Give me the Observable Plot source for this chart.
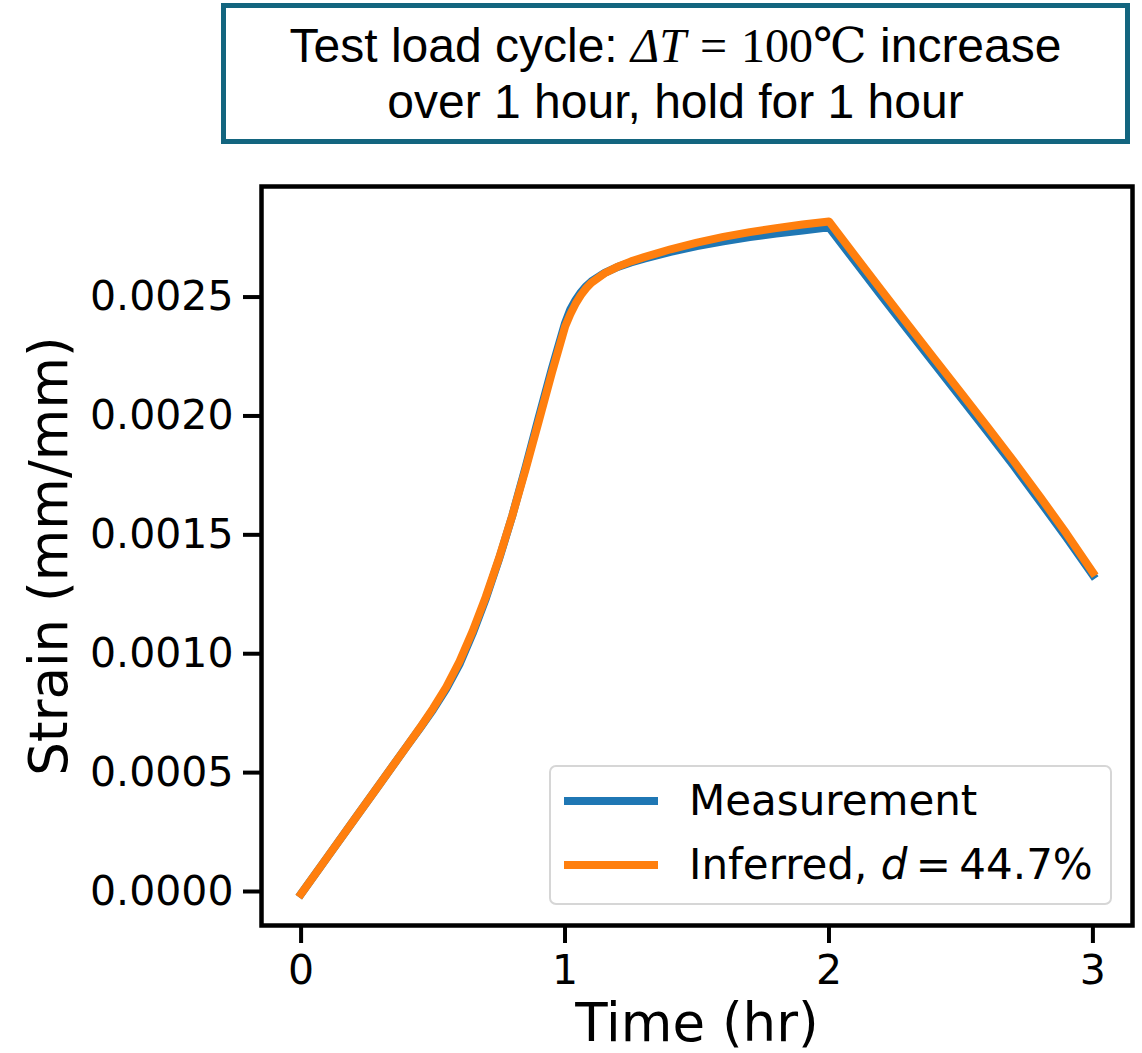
<!DOCTYPE html>
<html>
<head>
<meta charset="utf-8">
<script src="https://cdn.jsdelivr.net/npm/d3@7"></script>
<script src="https://cdn.jsdelivr.net/npm/@observablehq/plot@0.6"></script>
<style>
  html, body { margin: 0; padding: 0; background: #fff; }
  #wrap { position: relative; width: 1142px; height: 1053px; background: #fff; overflow: hidden; }
  #titlebox {
    position: absolute; left: 221px; top: 3px; width: 909px; height: 141px;
    box-sizing: border-box; border: 5px solid #13657f; background: #fff;
    font-family: "Liberation Sans", Arial, sans-serif; font-size: 48px; color: #000;
    text-align: center;
  }
  #titlebox .l1 { position: absolute; left: 0; right: 0; top: 10px; line-height: 56px; white-space: nowrap; }
  #titlebox .l2 { position: absolute; left: 0; right: 0; top: 66px; line-height: 56px; white-space: nowrap; }
  .math { font-family: "Liberation Serif", "DejaVu Serif", serif; font-size: 48px; }
  .mi { font-style: italic; }
  .eq { margin: 0 14px; }
  #chart { position: absolute; left: 0; top: 150px; }
  #legend {
    position: absolute; left: 549px; top: 765px; width: 563px; height: 140px;
    box-sizing: border-box; border: 2px solid #d6d6d6; border-radius: 7px;
    background: rgba(255,255,255,0.8);
    font-family: "DejaVu Sans", sans-serif; font-size: 42px; color: #000;
  }
  #legend .item { position: absolute; left: 0; height: 56px; width: 100%; }
  #legend .swatch { position: absolute; left: 13px; width: 94px; height: 8px; top: 24px; }
  #legend .lab { position: absolute; left: 138px; top: 0; line-height: 56px; white-space: nowrap; }
</style>
</head>
<body>
<div id="wrap">
  <div id="titlebox">
    <div class="l1">Test load cycle: <span class="math"><span class="mi">ΔT</span><span class="eq">=</span>100℃</span> increase</div>
    <div class="l2">over 1 hour, hold for 1 hour</div>
  </div>
  <div id="chart"></div>
  <div id="legend"></div>
</div>
<script>
// ---- data ----
const time = [0, 0.1, 0.2, 0.3, 0.4, 0.45, 0.5, 0.55, 0.6, 0.65, 0.7, 0.75, 0.8, 0.85, 0.9, 0.95, 1.0,
  1.02, 1.04, 1.06, 1.08, 1.1, 1.15, 1.2, 1.25, 1.3, 1.4, 1.5, 1.6, 1.7, 1.8, 1.9, 2.0,
  2.1, 2.2, 2.3, 2.4, 2.5, 2.6, 2.7, 2.8, 2.9, 3.0];
const measurement = [-0.00001, 0.000145, 0.0003, 0.000455, 0.00061, 0.000686, 0.000765, 0.000852, 0.000955, 0.001085, 0.001232, 0.001398, 0.00158, 0.001782, 0.001992, 0.002198, 0.00239,
  0.002448, 0.002488, 0.00252, 0.002546, 0.002566, 0.002602, 0.002627, 0.002646, 0.002662, 0.00269, 0.002714, 0.002734, 0.002752, 0.002767, 0.00278, 0.002793,
  0.002648, 0.002503, 0.00236, 0.002218, 0.002076, 0.001934, 0.00179, 0.00164, 0.001488, 0.00133];
const inferred = [-0.00001, 0.000145, 0.0003, 0.000455, 0.00061, 0.000688, 0.00077, 0.00086, 0.000967, 0.001095, 0.00124, 0.001402, 0.00158, 0.001773, 0.001976, 0.002181, 0.002375,
  0.002428, 0.002472, 0.002508, 0.002537, 0.00256, 0.0026, 0.002628, 0.00265, 0.002668, 0.002701, 0.002729, 0.002753, 0.002773, 0.00279, 0.002805, 0.002818,
  0.002672, 0.002527, 0.002383, 0.00224, 0.002098, 0.001955, 0.00181, 0.00166, 0.001505, 0.001342];
const xTicks = [0, 1, 2, 3];
const yTicks = [0, 0.0005, 0.0010, 0.0015, 0.0020, 0.0025];
const seriesNames = ["Measurement", "Inferred"];
const seriesColors = ["#1f77b4", "#ff7f0e"];
const xLabel = "Time (hr)";
const yLabel = "Strain (mm/mm)";

const measRows = time.map((t, i) => ({t, v: measurement[i]}));
const infRows = time.map((t, i) => ({t, v: inferred[i]}));

const chart = Plot.plot({
  width: 1142,
  height: 903,
  marginTop: 36,
  marginBottom: 128,
  marginLeft: 261,
  marginRight: 10,
  style: { fontFamily: "DejaVu Sans, sans-serif", fontSize: "41px", color: "#000", background: "#fff" },
  x: { domain: [-0.15, 3.15] },
  y: { domain: [-0.000143, 0.002965] },
  marks: [
    Plot.axisX({ ticks: xTicks, tickFormat: d => String(d), tickSize: 18, tickPadding: 11, strokeWidth: 4, label: null }),
    Plot.axisY({ ticks: yTicks, tickFormat: d3.format(".4f"), tickSize: 18, tickPadding: 10, strokeWidth: 4, label: null }),
    Plot.line(measRows, { x: "t", y: "v", stroke: seriesColors[0], strokeWidth: 8, strokeLinecap: "square", strokeLinejoin: "round" }),
    Plot.line(infRows, { x: "t", y: "v", stroke: seriesColors[1], strokeWidth: 8, strokeLinecap: "square", strokeLinejoin: "round" }),
    Plot.frame({ stroke: "#000", strokeWidth: 4.5 }),
    Plot.text([xLabel], { frameAnchor: "bottom", textAnchor: "middle", dy: 99, fontSize: 53, lineAnchor: "middle", text: d => d, fill: "#000" }),
    Plot.text([yLabel], { frameAnchor: "left", textAnchor: "middle", dx: -211, rotate: -90, fontSize: 53, lineAnchor: "middle", text: d => d, fill: "#000" })
  ]
});
document.getElementById("chart").appendChild(chart);

// legend
const legend = document.getElementById("legend");
const labelsHtml = [seriesNames[0], `${seriesNames[1]}, <span style="font-style:italic">d</span>&#8201;=&#8201;44.7%`];
const itemTops = [6, 70];
seriesNames.forEach((name, i) => {
  const item = document.createElement("div");
  item.className = "item";
  item.style.top = itemTops[i] + "px";
  item.innerHTML = `<div class="swatch" style="background:${seriesColors[i]}"></div><div class="lab">${labelsHtml[i]}</div>`;
  legend.appendChild(item);
});
</script>
</body>
</html>
